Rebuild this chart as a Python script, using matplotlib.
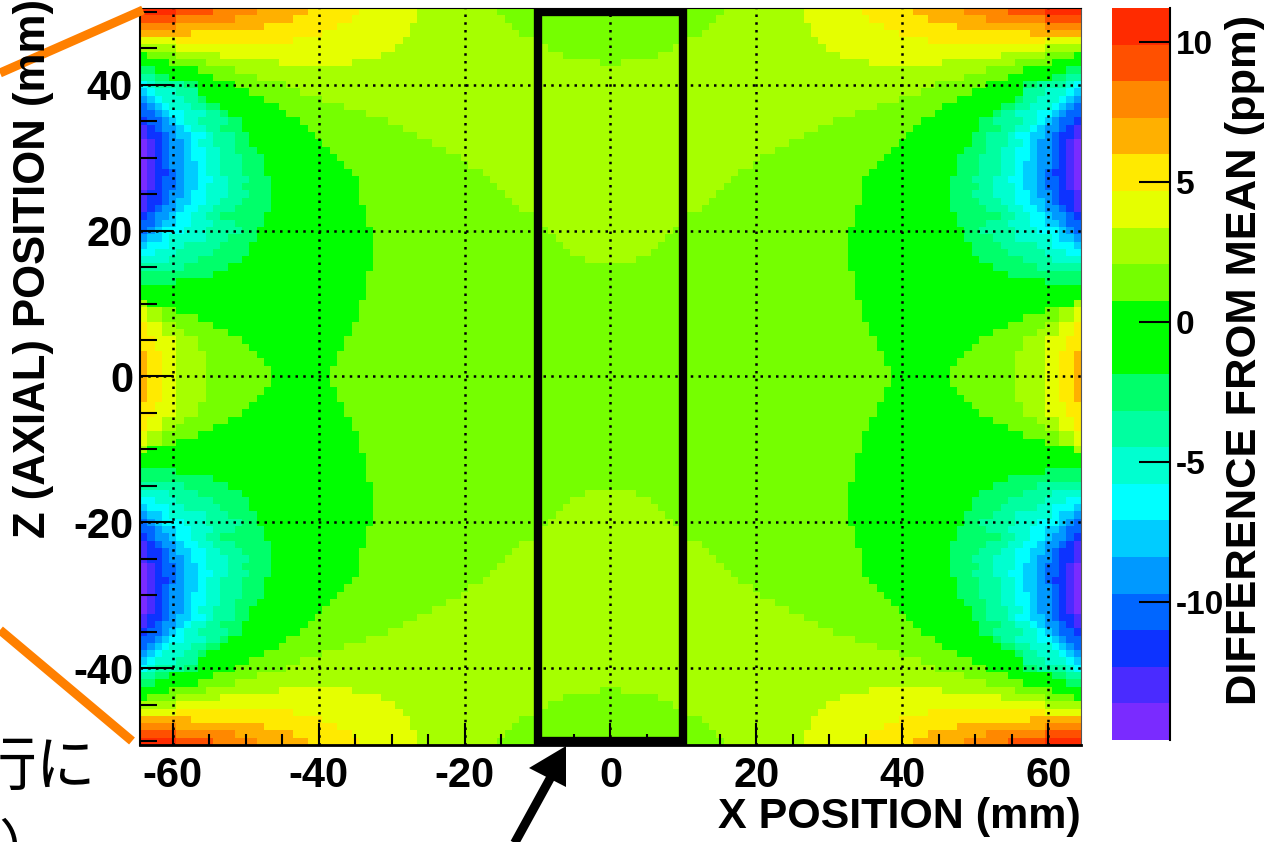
import matplotlib
matplotlib.use("Agg")
import matplotlib.pyplot as plt
import numpy as np
from matplotlib.colors import BoundaryNorm, ListedColormap
from matplotlib.lines import Line2D
from matplotlib.patches import Polygon, Rectangle

plt.rcParams["font.family"] = ["Liberation Sans", "DejaVu Sans"]
plt.rcParams["font.weight"] = "bold"
plt.rcParams["axes.unicode_minus"] = False

WIDTH, HEIGHT = 1285, 842

# colour bands of the scale, lowest first
band_colors = [
    "#7A2BFF", "#4A2BFF", "#0D33FF", "#0066FF", "#0099FF",
    "#00CCFF", "#00FFFF", "#00FFD0", "#00FFA0", "#00FF6A",
    "#00FF00", "#00FF00", "#75FF00", "#A6FF00", "#E5FF00",
    "#FFEA00", "#FFB000", "#FF8800", "#FF5000", "#FF2B00",
]
scale_low, scale_high = -14.93, 11.2
scale_ticks = [-10, -5, 0, 5, 10]

x_ticks = [-60, -40, -20, 0, 20, 40, 60]
z_ticks = [-40, -20, 0, 20, 40]

# upper left quarter of the map, z = 50 down to z = 0, 1 mm rows.
# each row is (band index, column where the band ends), column 64 is x = 0
quarter_rows = [
    [(19, 5), (18, 10), (17, 16), (16, 23), (15, 30), (14, 38), (13, 49), (12, 65)],
    [(18, 5), (17, 13), (16, 21), (15, 29), (14, 38), (13, 50), (12, 65)],
    [(17, 5), (16, 17), (15, 27), (14, 37), (13, 51), (12, 65)],
    [(16, 7), (15, 25), (14, 37), (13, 52), (12, 65)],
    [(14, 5), (15, 21), (14, 36), (13, 54), (12, 65)],
    [(13, 5), (14, 35), (13, 56), (12, 65)],
    [(11, 1), (12, 5), (13, 11), (14, 33), (13, 58), (12, 65)],
    [(11, 4), (12, 9), (13, 19), (14, 29), (13, 63), (12, 65)],
    [(9, 2), (11, 8), (12, 13), (13, 65)],
    [(8, 2), (9, 4), (11, 10), (12, 16), (13, 65)],
    [(6, 1), (7, 2), (8, 6), (9, 8), (11, 13), (12, 20), (13, 65)],
    [(5, 1), (6, 2), (7, 5), (8, 8), (11, 15), (12, 22), (13, 65)],
    [(4, 1), (5, 2), (6, 3), (7, 6), (8, 8), (9, 9), (11, 17), (12, 25), (13, 65)],
    [(3, 1), (4, 2), (5, 3), (6, 4), (7, 7), (8, 9), (9, 11), (11, 19), (12, 28), (13, 65)],
    [(3, 2), (4, 3), (5, 4), (6, 6), (7, 9), (8, 11), (9, 12), (11, 20), (12, 31), (13, 65)],
    [(2, 1), (3, 3), (4, 4), (5, 5), (6, 6), (7, 8), (8, 12), (9, 14), (11, 22), (12, 34), (13, 65)],
    [(1, 1), (2, 2), (3, 3), (4, 5), (5, 6), (6, 7), (7, 9), (8, 11), (9, 14), (11, 23), (12, 36), (13, 65)],
    [(1, 1), (2, 3), (3, 4), (4, 5), (5, 7), (6, 9), (7, 10), (8, 13), (9, 15), (11, 24), (12, 38), (13, 65)],
    [(0, 1), (1, 2), (2, 3), (3, 4), (4, 6), (5, 7), (6, 8), (7, 10), (8, 13), (9, 15), (11, 25), (12, 40), (13, 65)],
    [(0, 1), (1, 2), (2, 3), (3, 4), (4, 6), (5, 7), (6, 9), (7, 11), (8, 13), (9, 16), (11, 26), (12, 42), (13, 65)],
    [(0, 1), (1, 2), (2, 3), (3, 4), (4, 6), (5, 7), (6, 9), (7, 11), (8, 14), (9, 17), (11, 27), (12, 44), (13, 65)],
    [(0, 1), (1, 2), (2, 3), (3, 4), (4, 6), (5, 8), (6, 9), (7, 11), (8, 14), (9, 17), (11, 28), (12, 45), (13, 65)],
    [(0, 1), (1, 2), (2, 4), (3, 5), (4, 6), (5, 8), (6, 9), (7, 11), (8, 14), (9, 17), (11, 29), (12, 47), (13, 65)],
    [(0, 1), (1, 2), (2, 3), (3, 5), (4, 6), (5, 8), (6, 10), (7, 12), (8, 15), (9, 18), (11, 30), (12, 48), (13, 65)],
    [(0, 1), (1, 2), (2, 3), (3, 5), (4, 6), (5, 8), (6, 9), (7, 12), (8, 14), (9, 18), (11, 30), (12, 49), (13, 65)],
    [(1, 1), (2, 3), (3, 4), (4, 6), (5, 7), (6, 9), (7, 12), (8, 15), (9, 18), (11, 30), (12, 50), (13, 65)],
    [(1, 1), (2, 3), (3, 4), (4, 5), (5, 7), (6, 9), (7, 11), (8, 14), (9, 18), (11, 30), (12, 51), (13, 65)],
    [(1, 1), (2, 2), (3, 3), (4, 5), (5, 6), (6, 8), (7, 10), (8, 13), (9, 18), (11, 31), (12, 52), (13, 65)],
    [(2, 1), (3, 2), (4, 4), (5, 5), (6, 7), (7, 9), (8, 11), (9, 17), (11, 31), (12, 55), (13, 65)],
    [(3, 2), (4, 3), (5, 5), (6, 7), (7, 10), (8, 13), (9, 17), (11, 31), (12, 55), (13, 65)],
    [(3, 1), (4, 2), (5, 3), (6, 6), (7, 9), (8, 14), (9, 16), (11, 32), (12, 56), (13, 65)],
    [(4, 1), (5, 3), (6, 4), (7, 9), (8, 12), (9, 16), (11, 32), (12, 57), (13, 65)],
    [(5, 1), (6, 4), (7, 6), (8, 11), (9, 15), (11, 32), (12, 58), (13, 65)],
    [(6, 2), (7, 5), (8, 10), (9, 15), (11, 32), (12, 59), (13, 65)],
    [(7, 4), (8, 8), (9, 14), (11, 32), (12, 61), (13, 65)],
    [(8, 6), (9, 12), (11, 32), (12, 65)],
    [(9, 10), (11, 31), (12, 65)],
    [(9, 5), (11, 31), (12, 65)],
    [(11, 31), (12, 65)],
    [(11, 31), (12, 65)],
    [(13, 1), (11, 30), (12, 65)],
    [(14, 1), (13, 3), (12, 5), (11, 30), (12, 65)],
    [(14, 1), (13, 3), (12, 8), (11, 30), (12, 65)],
    [(15, 1), (14, 3), (13, 5), (12, 10), (11, 29), (12, 65)],
    [(15, 1), (14, 3), (13, 6), (12, 12), (11, 29), (12, 65)],
    [(15, 2), (14, 5), (13, 8), (12, 14), (11, 28), (12, 65)],
    [(15, 2), (14, 5), (13, 8), (12, 15), (11, 28), (12, 65)],
    [(16, 1), (15, 3), (14, 5), (13, 9), (12, 16), (11, 27), (12, 65)],
    [(16, 1), (15, 3), (14, 5), (13, 9), (12, 17), (11, 27), (12, 65)],
    [(16, 1), (15, 3), (14, 5), (13, 9), (12, 18), (11, 26), (12, 65)],
    [(16, 1), (15, 3), (14, 5), (13, 9), (12, 18), (11, 26), (12, 65)],
]


def px(x, y):
    return x / WIDTH, 1 - y / HEIGHT


def add_axes_px(left, top, right, bottom):
    return fig.add_axes([left / WIDTH, 1 - bottom / HEIGHT, (right - left) / WIDTH, (bottom - top) / HEIGHT])


def fig_line(xs, ys, **kw):
    fx, fy = zip(*[px(x, y) for x, y in zip(xs, ys)])
    fig.add_artist(Line2D(fx, fy, transform=fig.transFigure, **kw))


# the map is symmetric in x and z, so the quarter is mirrored
quarter = np.zeros((len(quarter_rows), 65), dtype=int)
for r, runs in enumerate(quarter_rows):
    start = 0
    for band, end in runs:
        quarter[r, start:end] = band
        start = end
top_half = np.hstack([quarter, quarter[:, -2::-1]])
bands = np.vstack([top_half, top_half[-2::-1]])

edges = np.linspace(scale_low, scale_high, len(band_colors) + 1)
values = (edges[:-1] + edges[1:])[bands] / 2
x_edges = np.arange(-64.5, 65.5)
z_edges = np.arange(50.5, -51.5, -1)

fig = plt.figure(figsize=(WIDTH / 100, HEIGHT / 100), dpi=100)
ax = add_axes_px(140, 8, 1081, 745)
cmap = ListedColormap(band_colors)
norm = BoundaryNorm(edges, cmap.N)
mesh = ax.pcolormesh(x_edges, z_edges, values, cmap=cmap, norm=norm, rasterized=True)
ax.set_xlim(-64.5, 64.5)
ax.set_ylim(-50.5, 50.5)

ax.set_xticks(x_ticks)
ax.set_yticks(z_ticks)
ax.set_xticks(np.arange(-60, 61, 5), minor=True)
ax.set_yticks(np.arange(-50, 51, 5), minor=True)
ax.tick_params(axis="x", which="major", direction="in", length=16, width=1.5, labelsize=30, pad=8)
ax.tick_params(axis="x", which="minor", direction="in", length=8, width=1.5)
ax.tick_params(axis="y", which="major", direction="in", length=24, width=1.5, labelsize=30, pad=5)
ax.tick_params(axis="y", which="minor", direction="in", length=12, width=1.5)
for label in ax.get_yticklabels():
    label.set_y(label.get_position()[1])
    label.set_verticalalignment("center_baseline")
ax.grid(True, which="major", color="black", linewidth=1.8, linestyle=(0, (1, 2.1)))
ax.set_axisbelow(False)
ax.spines["left"].set_linewidth(1.5)
ax.spines["bottom"].set_linewidth(2)
ax.spines["top"].set_linewidth(0.8)
ax.spines["right"].set_linewidth(0.8)
ax.spines["right"].set_color("#555555")

# central region outline
ax.add_patch(Rectangle((-10, -50), 20, 100, fill=False, edgecolor="black", linewidth=6, joinstyle="miter"))

fig.text(*px(1081, 817), "X POSITION (mm)", fontsize=31, ha="right", va="center")
fig.text(*px(34, 538), "Z (AXIAL) POSITION (mm)", fontsize=31.5, rotation=90, ha="center", va="bottom")

cax = add_axes_px(1112, 8, 1170, 740)
cbar = fig.colorbar(mesh, cax=cax, ticks=scale_ticks)
cbar.outline.set_visible(False)
cbar.ax.minorticks_off()
cbar.ax.tick_params(direction="in", length=22, width=1.5, labelsize=24, pad=4)
fig_line([1170, 1170], [8, 740], color="black", linewidth=1.5)
fig.text(*px(1245, 360), "DIFFERENCE FROM MEAN (ppm)", fontsize=31.3, rotation=90, ha="center", va="center")

# pieces of the surrounding slide: orange guide lines, arrow, cut-off caption
fig_line([0, 143], [73, 10], color="#FF8000", linewidth=6.5, solid_capstyle="butt")
fig_line([0, 132], [630, 741], color="#FF8000", linewidth=6.5, solid_capstyle="butt")
fig_line([513, 552], [846, 775], color="black", linewidth=6.5, solid_capstyle="butt")
head = [px(566, 746), px(529, 768), px(566, 787)]
fig.add_artist(Polygon(head, closed=True, transform=fig.transFigure, facecolor="black", edgecolor="none"))

fig.text(*px(-24, 785), "行に", fontsize=43, fontweight="normal", family=["Noto Sans CJK JP", "DejaVu Sans"], ha="left", va="baseline")
fig.text(*px(-2, 868), "）", fontsize=43, fontweight="normal", family=["Noto Sans CJK JP", "DejaVu Sans"], ha="left", va="baseline")

fig.savefig("out.png", dpi=100)
plt.close(fig)
